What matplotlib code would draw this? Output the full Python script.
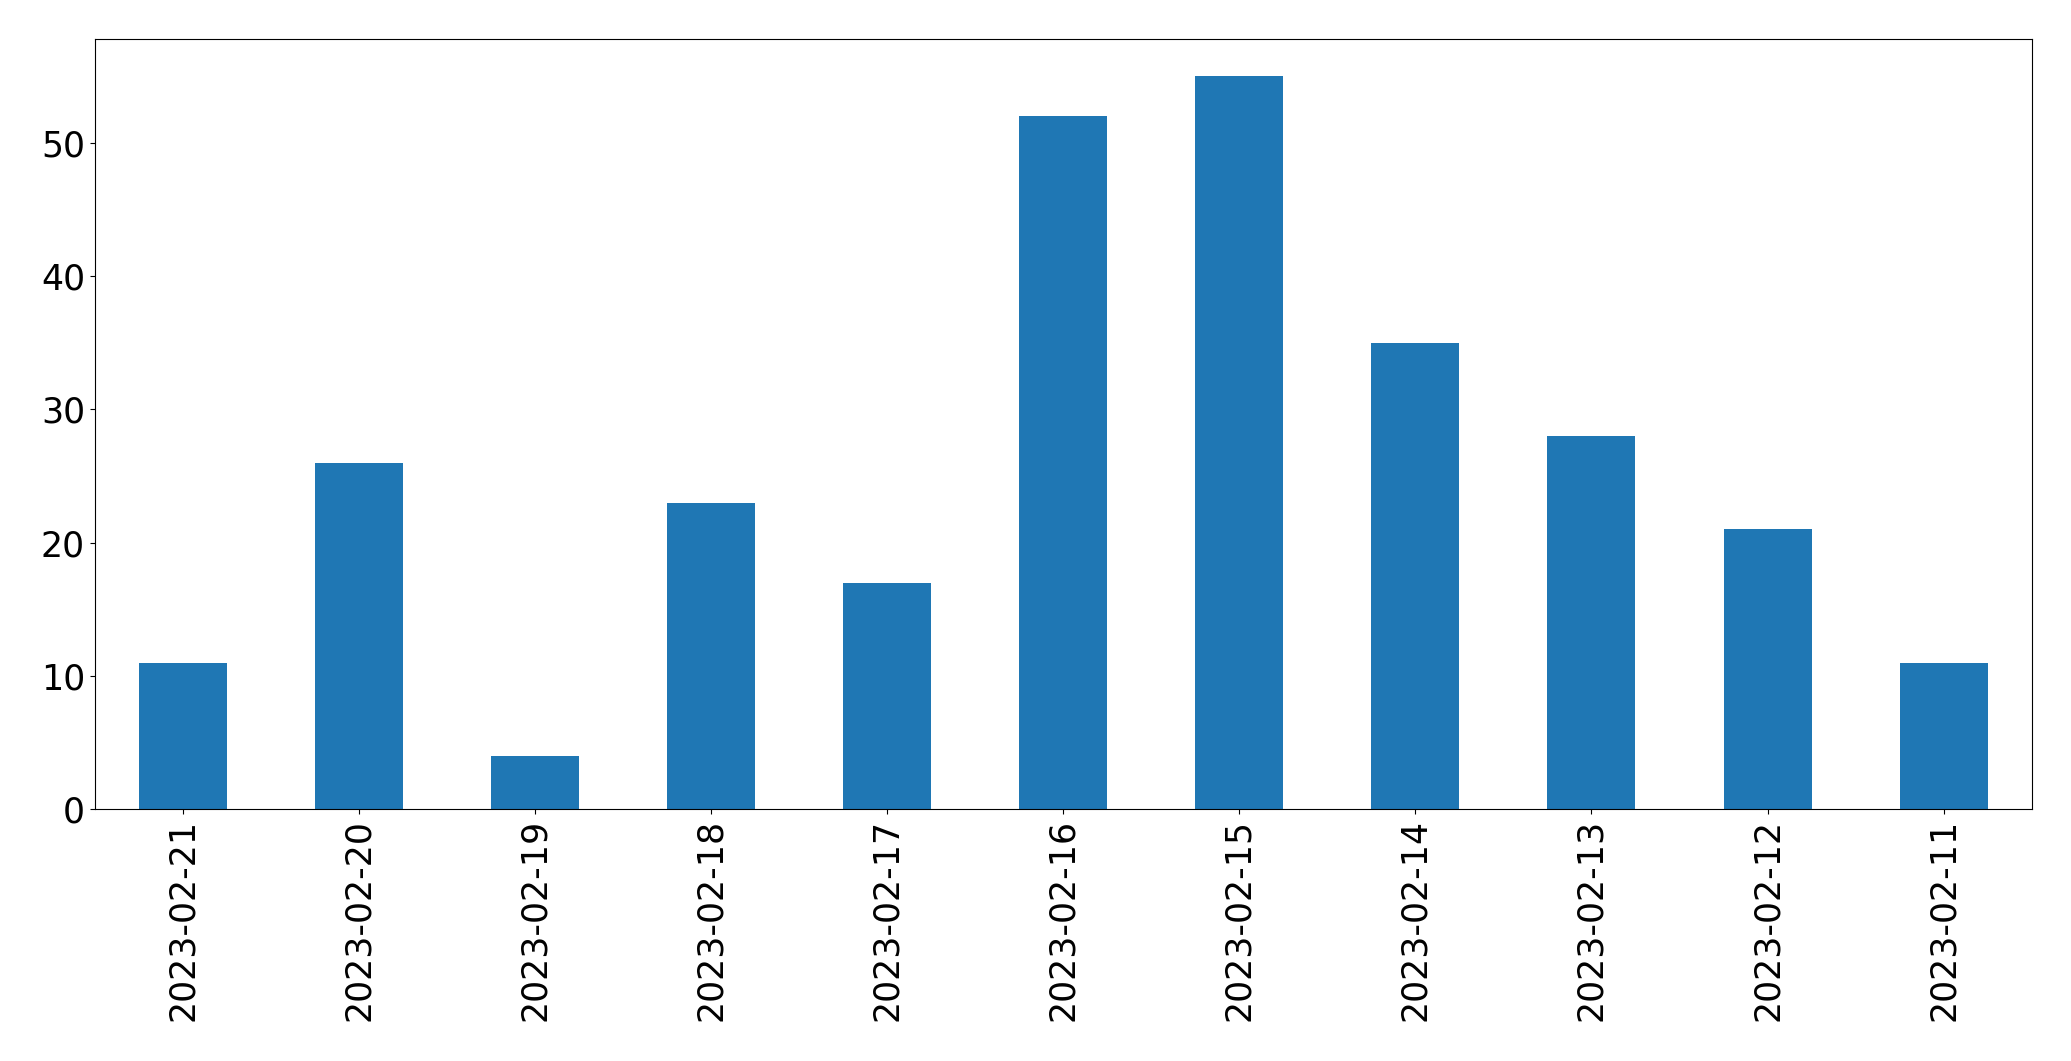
import matplotlib
matplotlib.use("Agg")
import matplotlib.pyplot as plt

dates = ["2023-02-21", "2023-02-20", "2023-02-19", "2023-02-18", "2023-02-17",
         "2023-02-16", "2023-02-15", "2023-02-14", "2023-02-13", "2023-02-12",
         "2023-02-11"]
counts = [11, 26, 4, 23, 17, 52, 55, 35, 28, 21, 11]

fig = plt.figure(figsize=(20.71, 10.61), dpi=100)
W, H = 2071, 1061
left, right, top, bottom = 94.7, 2031.7, 39.3, 809.3
ax = fig.add_axes([left / W, 1 - bottom / H, (right - left) / W, (bottom - top) / H])

x = list(range(len(dates)))
ax.bar(x, counts, width=0.5, color="#1f77b4")
ax.set_xlim(-0.5, len(dates) - 0.5)
ax.set_ylim(0, max(counts) * 1.05)
ax.set_xticks(x)
ax.set_xticklabels(dates, rotation=90)
ax.set_yticks([0, 10, 20, 30, 40, 50])
ax.tick_params(labelsize=25)

fig.savefig("out.png", dpi=100)
